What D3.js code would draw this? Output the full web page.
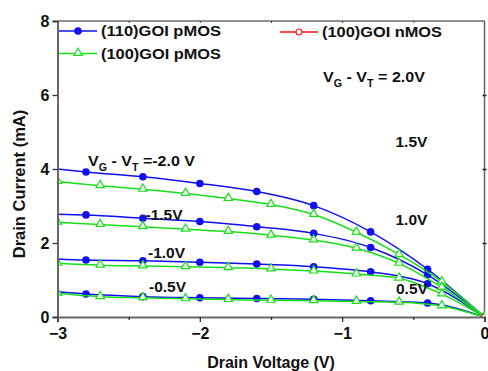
<!DOCTYPE html>
<html>
<head>
<meta charset="utf-8">
<script src="https://cdn.jsdelivr.net/npm/d3@7"></script>
<style>
body { margin: 0; background: #fff; }
text { font-family: "Liberation Sans", Arial, sans-serif; font-weight: bold; fill: #111; }
</style>
</head>
<body>
<svg id="chart"></svg>
<script>
// drain voltage samples (V)
const pmos110V = [-3.0, -2.8, -2.4, -2.0, -1.6, -1.2, -0.8, -0.4, 0];
const pmos100V = [-3.0, -2.7, -2.4, -2.1, -1.8, -1.5, -1.2, -0.9, -0.6, -0.3, 0];
const nmos100V = [0];

// drain current (mA), one array per VG - VT
const pmos110_20 = [4.00, 3.92, 3.79, 3.61, 3.39, 3.01, 2.30, 1.29, 0];
const pmos110_15 = [2.78, 2.76, 2.67, 2.58, 2.44, 2.26, 1.88, 1.14, 0];
const pmos110_10 = [1.57, 1.54, 1.52, 1.48, 1.43, 1.36, 1.22, 0.90, 0];
const pmos110_05 = [0.68, 0.62, 0.55, 0.52, 0.50, 0.48, 0.44, 0.38, 0];

const pmos100_20 = [3.66, 3.55, 3.45, 3.34, 3.20, 3.04, 2.77, 2.29, 1.69, 0.95, 0];
const pmos100_15 = [2.56, 2.50, 2.44, 2.37, 2.31, 2.21, 2.08, 1.86, 1.45, 0.80, 0];
const pmos100_10 = [1.45, 1.40, 1.38, 1.36, 1.33, 1.30, 1.24, 1.16, 1.05, 0.62, 0];
const pmos100_05 = [0.64, 0.55, 0.52, 0.49, 0.47, 0.45, 0.44, 0.42, 0.40, 0.30, 0];

const nmos100_0 = [0];

const xTicks = [-3, -2, -1, 0];
const xMinor = [-2.5, -1.5, -0.5];
const yTicks = [0, 2, 4, 6, 8];

const width = 488, height = 371;

let x = d3.scaleLinear().domain([-3, 0]).range([57.5, 484.5]);
let y = d3.scaleLinear().domain([0, 8]).range([317, 21]);

let svg = d3.select("#chart")
    .attr("width", width)
    .attr("height", height);

svg.append("clipPath")
    .attr("id", "plot")
    .append("rect")
    .attr("x", x(-3))
    .attr("y", y(8))
    .attr("width", x(0) - x(-3))
    .attr("height", y(0) - y(8));

// frame: thin top and right
svg.append("line")
    .attr("x1", x(-3)).attr("x2", x(0))
    .attr("y1", y(8)).attr("y2", y(8))
    .attr("stroke", "#222").attr("stroke-width", 1);
svg.append("line")
    .attr("x1", x(0)).attr("x2", x(0))
    .attr("y1", y(8)).attr("y2", y(0))
    .attr("stroke", "#666").attr("stroke-width", 1.5);

// small ticks on top and right
svg.append("g")
    .attr("transform", `translate(0,${y(8)})`)
    .call(d3.axisTop(x).tickValues(xMinor.concat([-2, -1])).tickSize(-2).tickFormat(""))
    .call(g => g.select(".domain").remove())
    .selectAll("line").attr("stroke", "#444");
svg.append("g")
    .attr("transform", `translate(${x(0)},0)`)
    .call(d3.axisRight(y).tickValues([2, 4, 6]).tickSize(2).tickFormat(""))
    .call(g => g.select(".domain").remove())
    .selectAll("line").attr("stroke", "#222").attr("stroke-width", 1.5)
    .attr("x1", -2);

let series = [
    {v: pmos110V, i: pmos110_20, kind: "blue"},
    {v: pmos110V, i: pmos110_15, kind: "blue"},
    {v: pmos110V, i: pmos110_10, kind: "blue"},
    {v: pmos110V, i: pmos110_05, kind: "blue"},
    {v: pmos100V, i: pmos100_20, kind: "green"},
    {v: pmos100V, i: pmos100_15, kind: "green"},
    {v: pmos100V, i: pmos100_10, kind: "green"},
    {v: pmos100V, i: pmos100_05, kind: "green"},
    {v: nmos100V, i: nmos100_0, kind: "red"}
];

const colors = {blue: "#1010f0", green: "#18e018", red: "#ff1010"};

let line = d3.line()
    .x(d => x(d[0]))
    .y(d => y(d[1]))
    .curve(d3.curveMonotoneX);

let plot = svg.append("g").attr("clip-path", "url(#plot)");
let tri = d3.symbol().type(d3.symbolTriangle).size(30);

series.forEach(s => {
    let pts = s.v.map((v, k) => [v, s.i[k]]);
    if (pts.length > 1) {
        plot.append("path")
            .attr("d", line(pts))
            .attr("fill", "none")
            .attr("stroke", colors[s.kind])
            .attr("stroke-width", 1.5);
    }
    if (s.kind === "blue") {
        plot.selectAll(null)
            .data(pts.slice(1))
            .enter()
            .append("circle")
            .attr("cx", d => x(d[0]))
            .attr("cy", d => y(d[1]))
            .attr("r", 3.8)
            .attr("fill", colors.blue);
    } else if (s.kind === "green") {
        plot.selectAll(null)
            .data(pts)
            .enter()
            .append("path")
            .attr("d", tri)
            .attr("transform", d => `translate(${x(d[0])},${y(d[1]) - 0.5})`)
            .attr("fill", "#fff")
            .attr("stroke", colors.green)
            .attr("stroke-width", 1.2);
    } else {
        plot.selectAll(null)
            .data(pts)
            .enter()
            .append("circle")
            .attr("cx", d => x(d[0]))
            .attr("cy", d => y(d[1]))
            .attr("r", 3)
            .attr("fill", "#fff")
            .attr("stroke", colors.red)
            .attr("stroke-width", 1.2);
    }
});

// axes
let xAxis = svg.append("g")
    .attr("transform", `translate(0,${y(0)})`)
    .call(d3.axisBottom(x).tickValues(xTicks).tickSize(5).tickPadding(6).tickFormat(d3.format("d")));
xAxis.append("g")
    .call(d3.axisBottom(x).tickValues(xMinor).tickSize(3).tickFormat(""))
    .call(g => g.select(".domain").remove());

let yAxis = svg.append("g")
    .attr("transform", `translate(${x(-3)},0)`)
    .call(d3.axisLeft(y).tickValues(yTicks).tickSize(5).tickPadding(3).tickFormat(d3.format("d")));

[xAxis, yAxis].forEach(g => {
    g.selectAll(".domain").attr("stroke", "#666").attr("stroke-width", 2);
    g.selectAll("line").attr("stroke", "#333").attr("stroke-width", 1.3);
    g.selectAll("text").attr("font-size", 16).attr("fill", "#111")
        .attr("font-family", "'Liberation Sans', Arial, sans-serif").attr("font-weight", "bold");
});

svg.append("text")
    .attr("x", 271)
    .attr("y", 368)
    .attr("text-anchor", "middle")
    .attr("font-size", 16)
    .text("Drain Voltage (V)");

svg.append("text")
    .attr("transform", "translate(25,184) rotate(-90)")
    .attr("text-anchor", "middle")
    .attr("font-size", 16.5)
    .text("Drain Current (mA)");

// legend
let legend = [
    {label: "(110)GOI pMOS", kind: "blue", lx: 59, ly: 31},
    {label: "(100)GOI pMOS", kind: "green", lx: 59, ly: 53.5},
    {label: "(100)GOI nMOS", kind: "red", lx: 280, ly: 32}
];
legend.forEach(l => {
    let g = svg.append("g").attr("transform", `translate(${l.lx},${l.ly})`);
    g.append("line").attr("x1", 0).attr("x2", 38)
        .attr("stroke", colors[l.kind]).attr("stroke-width", 1.5);
    if (l.kind === "blue") {
        g.append("circle").attr("cx", 19).attr("r", 3.8).attr("fill", colors.blue);
    } else if (l.kind === "green") {
        g.append("path").attr("d", tri).attr("transform", "translate(19,-0.5)")
            .attr("fill", "#fff").attr("stroke", colors.green).attr("stroke-width", 1.2);
    } else {
        g.append("circle").attr("cx", 19).attr("r", 3)
            .attr("fill", "#fff").attr("stroke", colors.red).attr("stroke-width", 1.2);
    }
    g.append("text").attr("x", 42).attr("y", 5)
        .attr("font-size", 15)
        .attr("textLength", 120).attr("lengthAdjust", "spacingAndGlyphs")
        .text(l.label);
});

// gate overdrive labels
function vgLabel(px, py, tail, len) {
    let t = svg.append("text").attr("x", px).attr("y", py).attr("font-size", 15)
        .attr("textLength", len).attr("lengthAdjust", "spacingAndGlyphs");
    t.append("tspan").text("V");
    t.append("tspan").attr("font-size", 10).attr("dy", 5).text("G");
    t.append("tspan").attr("dy", -5).text(" - V");
    t.append("tspan").attr("font-size", 10).attr("dy", 5).text("T");
    t.append("tspan").attr("dy", -5).text(tail);
}
vgLabel(88, 166, " =-2.0 V", 107);
vgLabel(323, 82, " = 2.0V", 102);

let notes = [
    {t: "-1.5V", px: 145.5, py: 219.5},
    {t: "-1.0V", px: 148, py: 257.5},
    {t: "-0.5V", px: 149, py: 292},
    {t: "1.5V", px: 395.5, py: 147},
    {t: "1.0V", px: 395.5, py: 225},
    {t: "0.5V", px: 396, py: 294}
];
svg.selectAll(null)
    .data(notes)
    .enter()
    .append("text")
    .attr("x", d => d.px)
    .attr("y", d => d.py)
    .attr("font-size", 15.5)
    .text(d => d.t);
</script>
</body>
</html>
